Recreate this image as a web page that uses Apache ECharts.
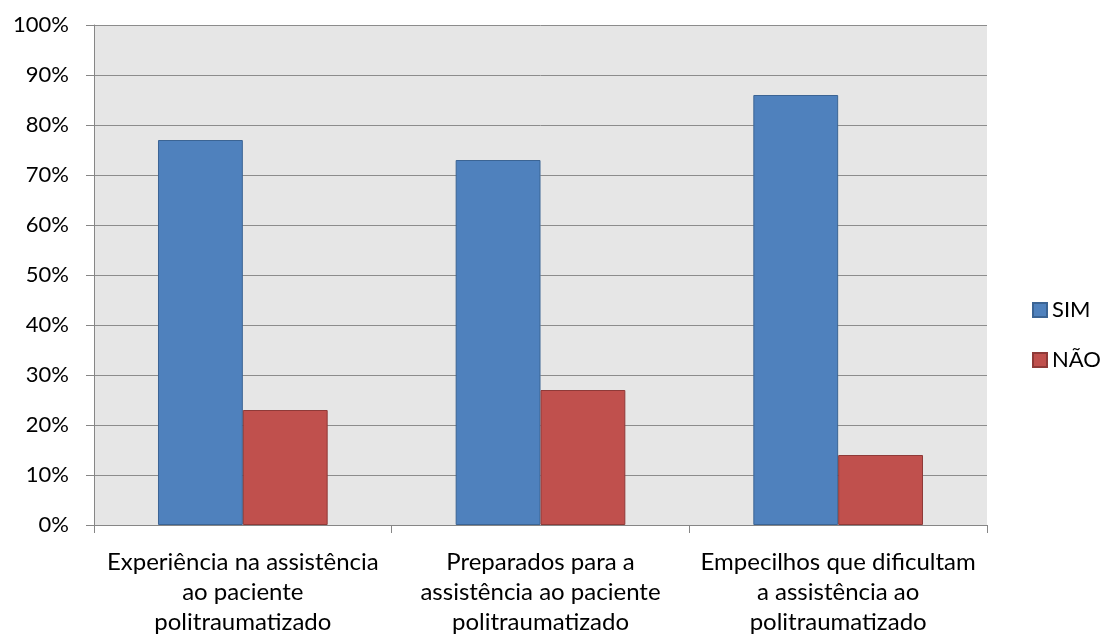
<!DOCTYPE html>
<html>
<head>
<meta charset="utf-8">
<script src="https://cdn.jsdelivr.net/npm/echarts@6/dist/echarts.min.js"></script>
<style>
  html, body { margin: 0; padding: 0; background: #fff; }
  #chart { width: 1100px; height: 637px; }
</style>
</head>
<body>
<div id="chart"></div>
<script>
// categorias e valores
var categories = [
  'Experiência na assistência\nao paciente\npolitraumatizado',
  'Preparados para a\nassistência ao paciente\npolitraumatizado',
  'Empecilhos que dificultam\na assistência ao\npolitraumatizado'
];
var simValues = [77, 73, 86];
var naoValues = [23, 27, 14];
var seriesNames = ['SIM', 'NÃO'];

var myChart = echarts.init(document.getElementById('chart'));
var fontFamily = 'Lato, "Open Sans", sans-serif';
var option = {
  animation: false,
  textStyle: { fontFamily: fontFamily },
  grid: {
    left: 94,
    right: 113,
    top: 25,
    bottom: 112,
    show: true,
    backgroundColor: '#e6e6e6',
    borderWidth: 0
  },
  legend: {
    orient: 'vertical',
    left: 1027,
    top: 294,
    itemWidth: 14,
    itemHeight: 14,
    itemGap: 28,
    icon: 'rect',
    textStyle: { fontSize: 22, color: '#000', fontFamily: fontFamily },
    data: seriesNames
  },
  xAxis: {
    type: 'category',
    data: categories,
    axisLine: { show: true, lineStyle: { color: '#868686', width: 1 } },
    axisTick: { show: true, length: 8, lineStyle: { color: '#868686' } },
    axisLabel: {
      color: '#000',
      fontSize: 24,
      lineHeight: 30,
      margin: 22,
      interval: 0,
      fontFamily: fontFamily
    }
  },
  yAxis: {
    type: 'value',
    min: 0,
    max: 100,
    interval: 10,
    axisLine: { show: true, lineStyle: { color: '#868686', width: 1 } },
    axisTick: { show: true, length: 8, lineStyle: { color: '#868686' } },
    splitLine: { show: true, lineStyle: { color: '#8c8c8c', width: 1 } },
    axisLabel: {
      color: '#000',
      fontSize: 22,
      margin: 25,
      formatter: '{value}%',
      fontFamily: fontFamily
    }
  },
  series: [
    {
      name: seriesNames[0],
      type: 'bar',
      data: simValues,
      barGap: '0%',
      barCategoryGap: '43%',
      itemStyle: { color: '#4f81bd', borderColor: '#3b6494', borderWidth: 1 }
    },
    {
      name: seriesNames[1],
      type: 'bar',
      data: naoValues,
      barGap: '0%',
      barCategoryGap: '43%',
      itemStyle: { color: '#c0504d', borderColor: '#8f3a38', borderWidth: 1 }
    }
  ]
};
myChart.setOption(option, (window.onresize = myChart.resize));
</script>
</body>
</html>
